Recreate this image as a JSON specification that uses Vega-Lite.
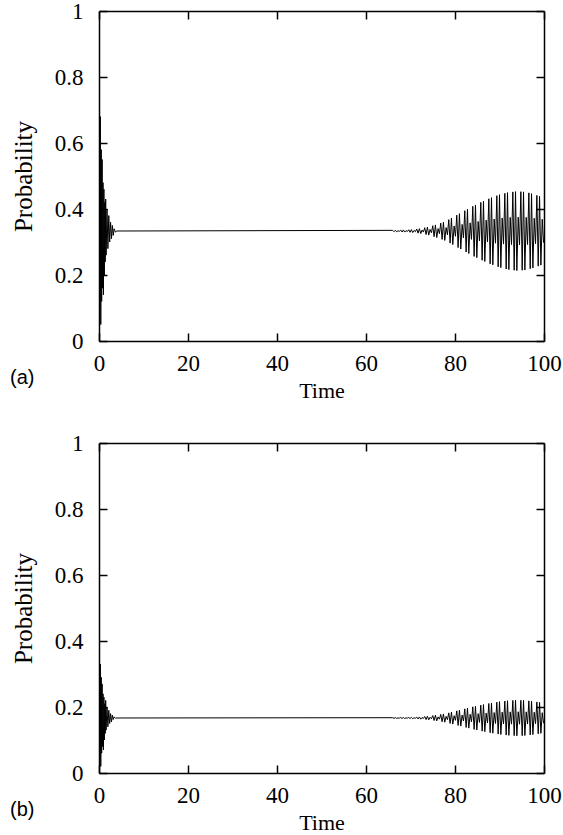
{
  "$schema": "https://vega.github.io/schema/vega-lite/v6.json",
  "background": "white",
  "padding": {"left": 10, "top": 0, "right": 5, "bottom": 0},
  "spacing": 31,
  "config": {
    "view": {"stroke": null},
    "axis": {
      "grid": false,
      "labelFont": "Liberation Serif",
      "titleFont": "Liberation Serif",
      "labelColor": "black",
      "titleColor": "black",
      "domainColor": "black",
      "tickColor": "black",
      "domainWidth": 1.5,
      "tickWidth": 1.5,
      "tickSize": -8,
      "labelFontSize": 23,
      "titleFontWeight": "normal",
      "labelFlush": false,
      "labelOverlap": false,
      "labelBound": false
    }
  },
  "datasets": {
    "a": [
      {"t": 0, "p": 0.333}, {"t": 0.1, "p": 0.62}, {"t": 0.2, "p": 0.10}, {"t": 0.3, "p": 0.68}, {"t": 0.4, "p": 0.05},
      {"t": 0.5, "p": 0.58}, {"t": 0.6, "p": 0.12}, {"t": 0.7, "p": 0.55}, {"t": 0.8, "p": 0.16}, {"t": 0.9, "p": 0.48},
      {"t": 1.0, "p": 0.14}, {"t": 1.1, "p": 0.46}, {"t": 1.2, "p": 0.20}, {"t": 1.3, "p": 0.42}, {"t": 1.4, "p": 0.24},
      {"t": 1.5, "p": 0.43}, {"t": 1.6, "p": 0.26}, {"t": 1.8, "p": 0.40}, {"t": 2.0, "p": 0.28}, {"t": 2.2, "p": 0.38},
      {"t": 2.4, "p": 0.30}, {"t": 2.6, "p": 0.36}, {"t": 2.8, "p": 0.31}, {"t": 3.0, "p": 0.35}, {"t": 3.2, "p": 0.32},
      {"t": 3.4, "p": 0.34}, {"t": 3.7, "p": 0.33}, {"t": 4.0, "p": 0.3333},
      {"t": 66.0, "p": 0.3353}, {"t": 66.3, "p": 0.3312}, {"t": 66.6, "p": 0.3356}, {"t": 66.9, "p": 0.3309},
      {"t": 67.2, "p": 0.3342}, {"t": 67.5, "p": 0.3323}, {"t": 67.8, "p": 0.3362}, {"t": 68.1, "p": 0.3303},
      {"t": 68.4, "p": 0.3365}, {"t": 68.7, "p": 0.3300}, {"t": 69.0, "p": 0.3345}, {"t": 69.3, "p": 0.3320},
      {"t": 69.6, "p": 0.3371}, {"t": 69.9, "p": 0.3294}, {"t": 70.2, "p": 0.3376}, {"t": 70.5, "p": 0.3286},
      {"t": 70.8, "p": 0.3351}, {"t": 71.1, "p": 0.3313}, {"t": 71.4, "p": 0.3394}, {"t": 71.7, "p": 0.3268},
      {"t": 72.0, "p": 0.3403}, {"t": 72.3, "p": 0.3256}, {"t": 72.6, "p": 0.3363}, {"t": 72.9, "p": 0.3301},
      {"t": 73.2, "p": 0.3433}, {"t": 73.5, "p": 0.3226}, {"t": 73.8, "p": 0.3448}, {"t": 74.1, "p": 0.3209},
      {"t": 74.4, "p": 0.3381}, {"t": 74.7, "p": 0.3281}, {"t": 75.0, "p": 0.3493}, {"t": 75.3, "p": 0.3161},
      {"t": 75.6, "p": 0.3517}, {"t": 75.9, "p": 0.3137}, {"t": 76.2, "p": 0.3407}, {"t": 76.5, "p": 0.3254},
      {"t": 76.8, "p": 0.3573}, {"t": 77.1, "p": 0.3078}, {"t": 77.4, "p": 0.3603}, {"t": 77.7, "p": 0.3048},
      {"t": 78.0, "p": 0.3438}, {"t": 78.3, "p": 0.3220}, {"t": 78.6, "p": 0.3678}, {"t": 78.9, "p": 0.2966},
      {"t": 79.2, "p": 0.3723}, {"t": 79.5, "p": 0.2921}, {"t": 79.8, "p": 0.3485}, {"t": 80.1, "p": 0.3173},
      {"t": 80.4, "p": 0.3813}, {"t": 80.7, "p": 0.2831}, {"t": 81.0, "p": 0.3858}, {"t": 81.3, "p": 0.2786},
      {"t": 81.6, "p": 0.3533}, {"t": 81.9, "p": 0.3126}, {"t": 82.2, "p": 0.3948}, {"t": 82.5, "p": 0.2696},
      {"t": 82.8, "p": 0.3993}, {"t": 83.1, "p": 0.2651}, {"t": 83.4, "p": 0.3580}, {"t": 83.7, "p": 0.3079},
      {"t": 84.0, "p": 0.4083}, {"t": 84.3, "p": 0.2564}, {"t": 84.6, "p": 0.4122}, {"t": 84.9, "p": 0.2525},
      {"t": 85.2, "p": 0.3623}, {"t": 85.5, "p": 0.3036}, {"t": 85.8, "p": 0.4200}, {"t": 86.1, "p": 0.2447},
      {"t": 86.4, "p": 0.4237}, {"t": 86.7, "p": 0.2411}, {"t": 87.0, "p": 0.3662}, {"t": 87.3, "p": 0.3002},
      {"t": 87.6, "p": 0.4309}, {"t": 87.9, "p": 0.2339}, {"t": 88.2, "p": 0.4343}, {"t": 88.5, "p": 0.2308},
      {"t": 88.8, "p": 0.3697}, {"t": 89.1, "p": 0.2964}, {"t": 89.4, "p": 0.4403}, {"t": 89.7, "p": 0.2248},
      {"t": 90.0, "p": 0.4433}, {"t": 90.3, "p": 0.2223}, {"t": 90.6, "p": 0.3725}, {"t": 90.9, "p": 0.2937},
      {"t": 91.2, "p": 0.4475}, {"t": 91.5, "p": 0.2181}, {"t": 91.8, "p": 0.4496}, {"t": 92.1, "p": 0.2162},
      {"t": 92.4, "p": 0.3745}, {"t": 92.7, "p": 0.2920}, {"t": 93.0, "p": 0.4518}, {"t": 93.3, "p": 0.2144},
      {"t": 93.6, "p": 0.4527}, {"t": 93.9, "p": 0.2135}, {"t": 94.2, "p": 0.3752}, {"t": 94.5, "p": 0.2915},
      {"t": 94.8, "p": 0.4525}, {"t": 95.1, "p": 0.2144}, {"t": 95.4, "p": 0.4519}, {"t": 95.7, "p": 0.2150},
      {"t": 96.0, "p": 0.3746}, {"t": 96.3, "p": 0.2924}, {"t": 96.6, "p": 0.4489}, {"t": 96.9, "p": 0.2189},
      {"t": 97.2, "p": 0.4465}, {"t": 97.5, "p": 0.2213}, {"t": 97.8, "p": 0.3721}, {"t": 98.1, "p": 0.2950},
      {"t": 98.4, "p": 0.4413}, {"t": 98.7, "p": 0.2268}, {"t": 99.0, "p": 0.4383}, {"t": 99.3, "p": 0.2298},
      {"t": 99.6, "p": 0.3690}, {"t": 99.9, "p": 0.2981}
    ],
    "b": [
      {"t": 0, "p": 0.1667}, {"t": 0.1, "p": 0.31}, {"t": 0.2, "p": 0.05}, {"t": 0.3, "p": 0.33}, {"t": 0.4, "p": 0.02},
      {"t": 0.5, "p": 0.29}, {"t": 0.6, "p": 0.06}, {"t": 0.7, "p": 0.27}, {"t": 0.8, "p": 0.08}, {"t": 0.9, "p": 0.24},
      {"t": 1.0, "p": 0.07}, {"t": 1.1, "p": 0.23}, {"t": 1.2, "p": 0.10}, {"t": 1.3, "p": 0.21}, {"t": 1.4, "p": 0.12},
      {"t": 1.5, "p": 0.22}, {"t": 1.6, "p": 0.13}, {"t": 1.8, "p": 0.20}, {"t": 2.0, "p": 0.14}, {"t": 2.2, "p": 0.19},
      {"t": 2.4, "p": 0.15}, {"t": 2.6, "p": 0.18}, {"t": 2.8, "p": 0.155}, {"t": 3.0, "p": 0.175}, {"t": 3.2, "p": 0.162},
      {"t": 3.4, "p": 0.17}, {"t": 3.7, "p": 0.166}, {"t": 4.0, "p": 0.1667},
      {"t": 66.0, "p": 0.1676}, {"t": 66.3, "p": 0.1657}, {"t": 66.6, "p": 0.1677}, {"t": 66.9, "p": 0.1656},
      {"t": 67.2, "p": 0.1671}, {"t": 67.5, "p": 0.1662}, {"t": 67.8, "p": 0.1680}, {"t": 68.1, "p": 0.1653},
      {"t": 68.4, "p": 0.1681}, {"t": 68.7, "p": 0.1652}, {"t": 69.0, "p": 0.1672}, {"t": 69.3, "p": 0.1661},
      {"t": 69.6, "p": 0.1684}, {"t": 69.9, "p": 0.1649}, {"t": 70.2, "p": 0.1686}, {"t": 70.5, "p": 0.1646},
      {"t": 70.8, "p": 0.1675}, {"t": 71.1, "p": 0.1658}, {"t": 71.4, "p": 0.1694}, {"t": 71.7, "p": 0.1638},
      {"t": 72.0, "p": 0.1698}, {"t": 72.3, "p": 0.1632}, {"t": 72.6, "p": 0.1680}, {"t": 72.9, "p": 0.1653},
      {"t": 73.2, "p": 0.1712}, {"t": 73.5, "p": 0.1619}, {"t": 73.8, "p": 0.1719}, {"t": 74.1, "p": 0.1611},
      {"t": 74.4, "p": 0.1689}, {"t": 74.7, "p": 0.1644}, {"t": 75.0, "p": 0.1739}, {"t": 75.3, "p": 0.1590},
      {"t": 75.6, "p": 0.1750}, {"t": 75.9, "p": 0.1579}, {"t": 76.2, "p": 0.1700}, {"t": 76.5, "p": 0.1631},
      {"t": 76.8, "p": 0.1775}, {"t": 77.1, "p": 0.1552}, {"t": 77.4, "p": 0.1789}, {"t": 77.7, "p": 0.1539},
      {"t": 78.0, "p": 0.1714}, {"t": 78.3, "p": 0.1616}, {"t": 78.6, "p": 0.1822}, {"t": 78.9, "p": 0.1502},
      {"t": 79.2, "p": 0.1843}, {"t": 79.5, "p": 0.1482}, {"t": 79.8, "p": 0.1735}, {"t": 80.1, "p": 0.1595},
      {"t": 80.4, "p": 0.1883}, {"t": 80.7, "p": 0.1441}, {"t": 81.0, "p": 0.1903}, {"t": 81.3, "p": 0.1421},
      {"t": 81.6, "p": 0.1757}, {"t": 81.9, "p": 0.1574}, {"t": 82.2, "p": 0.1944}, {"t": 82.5, "p": 0.1380},
      {"t": 82.8, "p": 0.1964}, {"t": 83.1, "p": 0.1360}, {"t": 83.4, "p": 0.1778}, {"t": 83.7, "p": 0.1553},
      {"t": 84.0, "p": 0.2005}, {"t": 84.3, "p": 0.1321}, {"t": 84.6, "p": 0.2022}, {"t": 84.9, "p": 0.1303},
      {"t": 85.2, "p": 0.1798}, {"t": 85.5, "p": 0.1533}, {"t": 85.8, "p": 0.2057}, {"t": 86.1, "p": 0.1268},
      {"t": 86.4, "p": 0.2074}, {"t": 86.7, "p": 0.1252}, {"t": 87.0, "p": 0.1815}, {"t": 87.3, "p": 0.1518},
      {"t": 87.6, "p": 0.2106}, {"t": 87.9, "p": 0.1220}, {"t": 88.2, "p": 0.2121}, {"t": 88.5, "p": 0.1206},
      {"t": 88.8, "p": 0.1831}, {"t": 89.1, "p": 0.1501}, {"t": 89.4, "p": 0.2148}, {"t": 89.7, "p": 0.1179},
      {"t": 90.0, "p": 0.2162}, {"t": 90.3, "p": 0.1167}, {"t": 90.6, "p": 0.1843}, {"t": 90.9, "p": 0.1489},
      {"t": 91.2, "p": 0.2181}, {"t": 91.5, "p": 0.1149}, {"t": 91.8, "p": 0.2190}, {"t": 92.1, "p": 0.1140},
      {"t": 92.4, "p": 0.1852}, {"t": 92.7, "p": 0.1481}, {"t": 93.0, "p": 0.2200}, {"t": 93.3, "p": 0.1132},
      {"t": 93.6, "p": 0.2204}, {"t": 93.9, "p": 0.1128}, {"t": 94.2, "p": 0.1856}, {"t": 94.5, "p": 0.1479},
      {"t": 94.8, "p": 0.2203}, {"t": 95.1, "p": 0.1132}, {"t": 95.4, "p": 0.2201}, {"t": 95.7, "p": 0.1135},
      {"t": 96.0, "p": 0.1853}, {"t": 96.3, "p": 0.1483}, {"t": 96.6, "p": 0.2187}, {"t": 96.9, "p": 0.1152},
      {"t": 97.2, "p": 0.2176}, {"t": 97.5, "p": 0.1163}, {"t": 97.8, "p": 0.1842}, {"t": 98.1, "p": 0.1495},
      {"t": 98.4, "p": 0.2153}, {"t": 98.7, "p": 0.1188}, {"t": 99.0, "p": 0.2140}, {"t": 99.3, "p": 0.1201},
      {"t": 99.6, "p": 0.1828}, {"t": 99.9, "p": 0.1509}
    ]
  },
  "vconcat": [
    {
      "width": 445,
      "height": 330,
      "title": {"text": "(a)", "orient": "bottom", "anchor": "start", "frame": "group", "dx": -89, "dy": -33, "offset": 0, "font": "Liberation Sans", "fontSize": 20, "fontWeight": "normal", "color": "black"},
      "data": {"name": "a"},
      "layer": [
        {
          "mark": {"type": "line", "color": "black", "strokeWidth": 1, "clip": true},
          "encoding": {
            "x": {"field": "t", "type": "quantitative", "scale": {"domain": [0, 100], "nice": false},
              "axis": {"title": "Time", "orient": "bottom", "values": [0, 20, 40, 60, 80, 100], "format": "d", "labelFont": "Liberation Serif", "labelFontSize": 23, "labelPadding": 19, "titlePadding": 5, "titleFont": "Liberation Serif", "titleFontSize": 22}},
            "y": {"field": "p", "type": "quantitative", "scale": {"domain": [0, 1], "nice": false},
              "axis": {"title": "Probability", "orient": "left", "values": [0, 0.2, 0.4, 0.6, 0.8, 1], "format": ".1~f", "labelFont": "Liberation Serif", "labelFontSize": 23, "labelPadding": 24, "titlePadding": 18, "titleFont": "Liberation Serif", "titleFontSize": 25}}
          }
        },
        {
          "mark": {"type": "line", "strokeOpacity": 0},
          "encoding": {
            "x": {"field": "t", "type": "quantitative", "axis": {"orient": "top", "labels": false, "title": null, "values": [0, 20, 40, 60, 80, 100]}},
            "y": {"field": "p", "type": "quantitative", "axis": {"orient": "right", "labels": false, "title": null, "values": [0, 0.2, 0.4, 0.6, 0.8, 1]}}
          }
        }
      ],
      "resolve": {"axis": {"x": "independent", "y": "independent"}}
    },
    {
      "width": 445,
      "height": 330,
      "title": {"text": "(b)", "orient": "bottom", "anchor": "start", "frame": "group", "dx": -89, "dy": -33, "offset": 0, "font": "Liberation Sans", "fontSize": 20, "fontWeight": "normal", "color": "black"},
      "data": {"name": "b"},
      "layer": [
        {
          "mark": {"type": "line", "color": "black", "strokeWidth": 1, "clip": true},
          "encoding": {
            "x": {"field": "t", "type": "quantitative", "scale": {"domain": [0, 100], "nice": false},
              "axis": {"title": "Time", "orient": "bottom", "values": [0, 20, 40, 60, 80, 100], "format": "d", "labelFont": "Liberation Serif", "labelFontSize": 23, "labelPadding": 19, "titlePadding": 5, "titleFont": "Liberation Serif", "titleFontSize": 22}},
            "y": {"field": "p", "type": "quantitative", "scale": {"domain": [0, 1], "nice": false},
              "axis": {"title": "Probability", "orient": "left", "values": [0, 0.2, 0.4, 0.6, 0.8, 1], "format": ".1~f", "labelFont": "Liberation Serif", "labelFontSize": 23, "labelPadding": 24, "titlePadding": 18, "titleFont": "Liberation Serif", "titleFontSize": 25}}
          }
        },
        {
          "mark": {"type": "line", "strokeOpacity": 0},
          "encoding": {
            "x": {"field": "t", "type": "quantitative", "axis": {"orient": "top", "labels": false, "title": null, "values": [0, 20, 40, 60, 80, 100]}},
            "y": {"field": "p", "type": "quantitative", "axis": {"orient": "right", "labels": false, "title": null, "values": [0, 0.2, 0.4, 0.6, 0.8, 1]}}
          }
        }
      ],
      "resolve": {"axis": {"x": "independent", "y": "independent"}}
    }
  ]
}
